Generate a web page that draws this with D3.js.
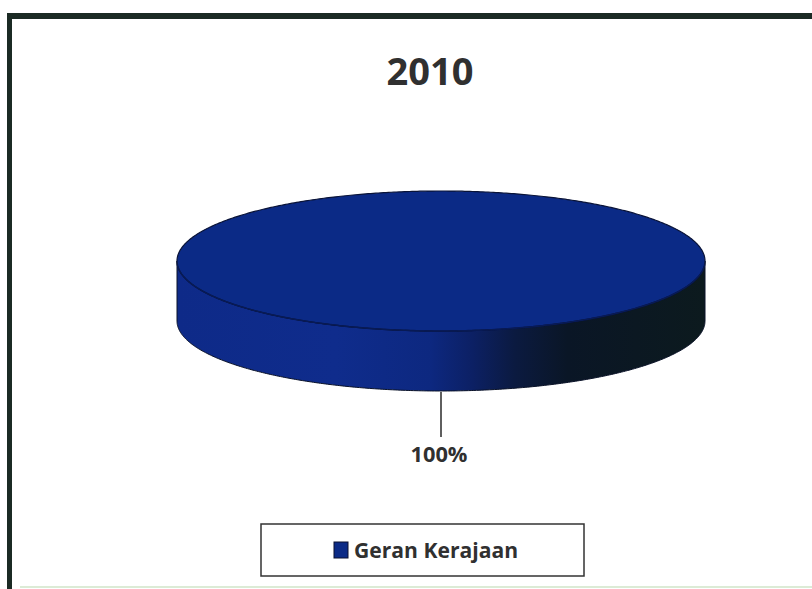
<!DOCTYPE html>
<html><head><meta charset="utf-8">
<script src="https://cdn.jsdelivr.net/npm/d3@7"></script>
<style>html,body{margin:0;padding:0;background:#fff;}svg{display:block;}</style>
</head><body>
<svg id="chart" width="812" height="589"></svg>
<script>
const title = "2010";
const categories = ["Geran Kerajaan"];
const values = [100];
const colors = ["#0b2a86"];

const W = 812, H = 589;
const svg = d3.select("#chart");
const font = "'Open Sans', 'DejaVu Sans', sans-serif";

// frame
svg.append("rect").attr("x",7).attr("y",13).attr("width",W-7).attr("height",6).attr("fill","#1b2a24");
svg.append("rect").attr("x",7).attr("y",13).attr("width",5).attr("height",H-13).attr("fill","#1b2a24");
svg.append("line").attr("x1",20).attr("x2",W).attr("y1",587).attr("y2",587).attr("stroke","#dcebd6").attr("stroke-width",2);

// title
svg.append("text").attr("x",430).attr("y",85).attr("text-anchor","middle")
  .attr("font-family",font).attr("font-weight",700).attr("font-size",38)
  .attr("fill","#303030").text(title);

// 3D pie
const cx = 441, cy = 261, rx = 264, ry = 70, depth = 60;
const total = d3.sum(values);
const pie = d3.pie().sort(null).value(d => d)(values);

const defs = svg.append("defs");
const grad = defs.append("linearGradient").attr("id","side").attr("gradientUnits","userSpaceOnUse")
  .attr("x1",cx-rx).attr("x2",cx+rx).attr("y1",0).attr("y2",0);
[[0,"#0e2a88"],[0.3,"#0f2c8c"],[0.48,"#0d2880"],[0.56,"#0c2064"],[0.64,"#0b1a40"],[0.74,"#0a1626"],[1,"#0c1a1e"]]
  .forEach(([o,c]) => grad.append("stop").attr("offset",o).attr("stop-color",c));

const px = (a, dy=0) => [cx + rx*Math.sin(a), cy - ry*Math.cos(a) + dy];
function arcPts(a0, a1, dy) {
  const n = Math.max(2, Math.ceil(Math.abs(a1-a0)/0.01));
  return d3.range(n+1).map(i => px(a0 + (a1-a0)*i/n, dy));
}
const line = d3.line();

pie.forEach((s, i) => {
  const a0 = Math.max(s.startAngle, Math.PI/2), a1 = Math.min(s.endAngle, 3*Math.PI/2);
  if (a1 > a0) {
    const pts = arcPts(a0, a1, 0).concat(arcPts(a1, a0, depth));
    svg.append("path").attr("d", line(pts)+"Z").attr("fill","url(#side)")
      .attr("stroke","#0a1228").attr("stroke-width",1);
  }
  const full = (s.endAngle - s.startAngle) >= 2*Math.PI - 1e-6;
  let pts = arcPts(s.startAngle, s.endAngle, 0);
  if (!full) pts = [[cx,cy]].concat(pts);
  svg.append("path").attr("d", line(pts)+"Z").attr("fill",colors[i])
    .attr("stroke","#0a1438").attr("stroke-width",1.2);
  svg.append("path").attr("d", line(arcPts(Math.max(s.startAngle,Math.PI/2)+0.05, Math.min(s.endAngle,3*Math.PI/2)-0.05, 0)))
    .attr("fill","none").attr("stroke","#081a55").attr("stroke-width",1.5);

  const mid = (s.startAngle + s.endAngle)/2;
  const [lx, ly] = px(mid, depth);
  svg.append("line").attr("x1",lx).attr("x2",lx).attr("y1",ly+1).attr("y2",ly+46)
    .attr("stroke","#2a2a2a").attr("stroke-width",1.5);
  svg.append("text").attr("x",lx-2).attr("y",ly+71).attr("text-anchor","middle")
    .attr("font-family",font).attr("font-weight",700).attr("font-size",22)
    .attr("textLength",57).attr("lengthAdjust","spacingAndGlyphs")
    .attr("fill","#303030").text(d3.format(".0%")(s.value/total));
});

// legend
svg.append("rect").attr("x",261).attr("y",524).attr("width",323).attr("height",52)
  .attr("fill","#fff").attr("stroke","#333").attr("stroke-width",1.5);
const lg = svg.append("g");
categories.forEach((c, i) => {
  lg.append("rect").attr("x",334).attr("y",542).attr("width",14).attr("height",16)
    .attr("fill",colors[i]).attr("stroke","#0a1030").attr("stroke-width",1);
  lg.append("text").attr("x",354).attr("y",558).attr("font-family",font).attr("font-weight",700)
    .attr("font-size",22).attr("textLength",164).attr("lengthAdjust","spacingAndGlyphs")
    .attr("fill","#303030").text(c);
});
</script>
</body></html>
